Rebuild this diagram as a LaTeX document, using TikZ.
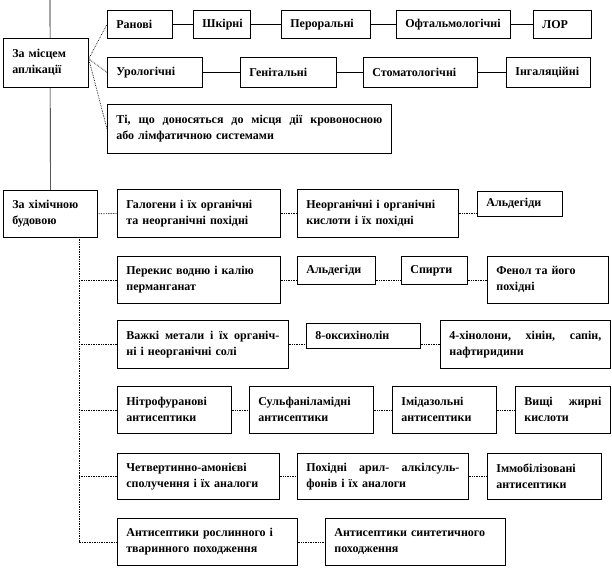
\documentclass[tikz,border=0pt]{standalone}
\usepackage{fontspec}
\setmainfont{Liberation Serif}
\usepackage{tikz}

\begin{document}
\begin{tikzpicture}[x=1pt, y=-1pt,
    box/.style={draw, fill=white, line width=0.7pt, anchor=north west,
      inner xsep=9pt, inner ysep=2pt, align=left,
      font=\fontsize{12}{16}\selectfont\bfseries},
    line/.style={line width=0.6pt},
    link/.style={densely dotted, line width=0.7pt}
]
  \useasboundingbox (0,0) rectangle (612,569);

  % Stamm links
  \coordinate (top) at (50,0);
  \node[box, text width=76pt, minimum height=47pt] (chem) at (3,190) {За хімічною\\будовою};
  \draw[line] (top) -- (chem.north);

  % Nach dem Ort der Anwendung
  \node[box, text width=67pt, minimum height=49pt] (loc) at (3,38) {За місцем\\аплікації};

  \node[box, text width=47pt, minimum height=28pt] (ran) at (107,10) {Ранові};
  \node[box, text width=39pt, minimum height=28pt] (shk) at (193,10) {Шкірні};
  \node[box, text width=71pt, minimum height=28pt] (peror) at (281,10) {Пероральні};
  \node[box, text width=96pt, minimum height=28pt] (oft) at (396,10) {Офтальмологічні};
  \node[box, text width=40pt, minimum height=28pt] (lor) at (533,10) {ЛОР};

  \node[box, text width=77pt, minimum height=30pt] (uro) at (107,57) {Урологічні};
  \node[box, text width=78pt, minimum height=30pt] (gen) at (240,57) {Генітальні};
  \node[box, text width=96pt, minimum height=30pt] (stom) at (363,57) {Стоматологічні};
  \node[box, text width=66pt, minimum height=30pt] (inh) at (506,57) {Інгаляційні};

  \node[box, text width=266pt, minimum height=49pt] (ti) at (107,104)
    {Ті,\hfill що\hfill доносяться\hfill до\hfill місця\hfill дії\hfill кровоносною\\або лімфатичною системами};

  \draw[link] ([yshift=4pt]loc.east) -- (ran.west);
  \draw[link] ([yshift=4pt]loc.east) -- (uro.west);
  \draw[link] ([yshift=4pt]loc.east) -- (ti.west);

  \draw[line] (ran.east) -- (shk.west);
  \draw[line] (shk.east) -- (peror.west);
  \draw[line] (peror.east) -- (oft.west);
  \draw[line] (oft.east) -- (lor.west);
  \draw[line] (uro.east) -- (gen.west);
  \draw[line] (gen.east) -- (stom.west);
  \draw[line] (stom.east) -- (inh.west);

  % Nach dem chemischen Aufbau
  \node[box, text width=145pt, minimum height=48pt] (gal) at (117,189) {Галогени і їх органічні\\та неорганічні похідні};
  \node[box, text width=143pt, minimum height=48pt] (neorg) at (297,189) {Неорганічні і органічні\\кислоти і їх похідні};
  \node[box, text width=67pt, minimum height=25pt] (ald) at (477,191) {Альдегіди};

  \node[box, text width=145pt, minimum height=47pt] (perek) at (117,256) {Перекис водню і калію\\перманганат};
  \node[box, text width=60pt, minimum height=28pt] (aldb) at (297,256) {Альдегіди};
  \node[box, text width=48pt, minimum height=28pt] (spirt) at (401,256) {Спирти};
  \node[box, text width=103pt, minimum height=47pt] (fenol) at (487,256) {Фенол та його\\похідні};

  \node[box, text width=153pt, minimum height=48pt] (vazh) at (117,320)
    {Важкі\hfill метали\hfill і\hfill їх\hfill органіч-\\ні і неорганічні солі};
  \node[box, text width=96pt, minimum height=25pt] (oksy) at (306,323) {8-оксихінолін};
  \node[box, text width=152pt, minimum height=48pt] (chinol) at (440,320)
    {4-хінолони,\hfill хінін,\hfill сапін,\\нафтиридини};

  \node[box, text width=96pt, minimum height=47pt] (nitro) at (117,386) {Нітрофуранові\\антисептики};
  \node[box, text width=106pt, minimum height=47pt] (sulf) at (249,386) {Сульфаніламідні\\антисептики};
  \node[box, text width=86pt, minimum height=47pt] (imid) at (392,386) {Імідазольні\\антисептики};
  \node[box, text width=77pt, minimum height=47pt] (vyshchi) at (515,386) {Вищі\hfill жирні\\кислоти};

  \node[box, text width=144pt, minimum height=46pt] (chetv) at (117,453) {Четвертинно-амонієві\\сполучення і їх аналоги};
  \node[box, text width=153pt, minimum height=46pt] (aryl) at (297,453)
    {Похідні\hfill арил-\hfill алкілсуль-\\фонів і їх аналоги};
  \node[box, text width=96pt, minimum height=46pt] (immob) at (487,453) {Іммобілізовані\\антисептики};

  \node[box, text width=162pt, minimum height=47pt] (rosl) at (117,518) {Антисептики рослинного і\\тваринного походження};
  \node[box, text width=162pt, minimum height=47pt] (synt) at (325,518) {Антисептики синтетичного\\походження};

  % Verbindungen
  \coordinate (tr) at (79,237);
  \draw[link] (chem.east) -- (gal.west);
  \draw[link] (tr) |- (rosl.west);
  \draw[link] (tr |- perek.west) -- (perek.west);
  \draw[link] (tr |- vazh.west) -- (vazh.west);
  \draw[link] (tr |- nitro.west) -- (nitro.west);
  \draw[link] (tr |- chetv.west) -- (chetv.west);

  \draw[link] (gal.east) -- (neorg.west);
  \draw[link] (neorg.east) -- (neorg.east -| ald.west);
  \draw[link] (perek.east) -- (perek.east -| aldb.west);
  \draw[link] (perek.east -| aldb.east) -- (perek.east -| spirt.west);
  \draw[link] (perek.east -| spirt.east) -- (fenol.west);
  \draw[link] (vazh.east) -- (vazh.east -| oksy.west);
  \draw[link] (vazh.east -| oksy.east) -- (chinol.west);
  \draw[link] (nitro.east) -- (sulf.west);
  \draw[link] (sulf.east) -- (imid.west);
  \draw[link] (imid.east) -- (vyshchi.west);
  \draw[link] (chetv.east) -- (aryl.west);
  \draw[link] (aryl.east) -- (immob.west);
  \draw[link] (rosl.east) -- (synt.west);

\end{tikzpicture}
\end{document}
